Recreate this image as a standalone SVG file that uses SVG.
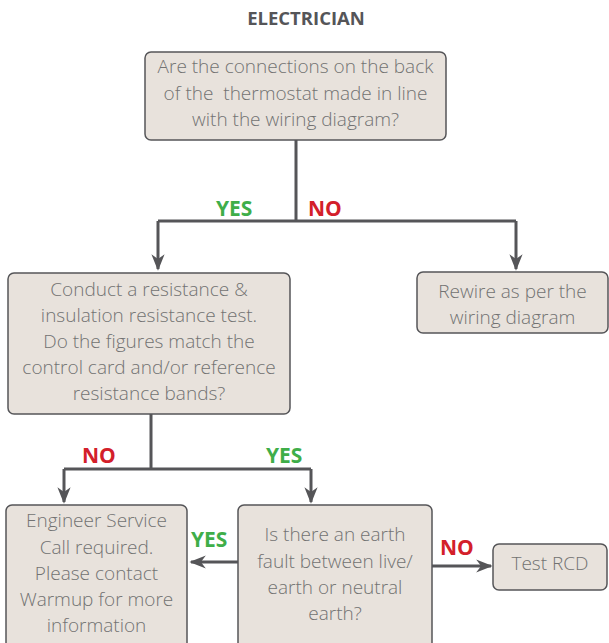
<svg xmlns="http://www.w3.org/2000/svg" width="609" height="643" viewBox="0 0 609 643">
<defs>
<style>
.box{fill:#e8e2dc;stroke:#555558;stroke-width:1.5}
.t{font-family:"Open Sans","Liberation Sans",sans-serif;font-weight:300;font-size:19px;fill:#727272;text-anchor:middle}
.c{fill:none;stroke:#555558;stroke-width:3}
.y{font-family:"Open Sans","Liberation Sans",sans-serif;font-weight:700;font-size:21px;fill:#3fae49}
.n{font-family:"Open Sans","Liberation Sans",sans-serif;font-weight:700;font-size:21px;fill:#d3202a}
.h{font-family:"Open Sans","Liberation Sans",sans-serif;font-weight:700;font-size:18.5px;fill:#555558;text-anchor:middle}
</style>
<marker id="a" viewBox="0 0 10 10" refX="9" refY="5" markerWidth="5.5" markerHeight="5.5" markerUnits="strokeWidth" orient="auto">
<path d="M0,1 L10,5 L0,9 L3,5 z" fill="#555558"/>
</marker>
</defs>
<rect width="609" height="643" fill="#ffffff"/>
<text class="h" x="306" y="25">ELECTRICIAN</text>
<g id="connectors">
<path class="c" d="M296,140 V221 M158,221 H516"/>
<path class="c" d="M158,221 V269" marker-end="url(#a)"/>
<path class="c" d="M516,221 V269" marker-end="url(#a)"/>
<path class="c" d="M151,414 V469 M64,469 H311"/>
<path class="c" d="M64,469 V502" marker-end="url(#a)"/>
<path class="c" d="M311,469 V502" marker-end="url(#a)"/>
<path class="c" d="M238,562 H191" marker-end="url(#a)"/>
<path class="c" d="M432,566 H491" marker-end="url(#a)"/>
<text class="y" x="216" y="216">YES</text>
<text class="n" x="308" y="216">NO</text>
<text class="n" x="82" y="463">NO</text>
<text class="y" x="266" y="463">YES</text>
<text class="y" x="191" y="547">YES</text>
<text class="n" x="440" y="555">NO</text>
</g>
<g id="n1">
<rect class="box" x="145" y="52" width="301" height="88" rx="6"/>
<text class="t" x="295.5" y="73">Are the connections on the back</text>
<text class="t" x="295.5" y="100">of the&#160; thermostat made in line</text>
<text class="t" x="295.5" y="126">with the wiring diagram?</text>
</g>
<g id="n2">
<rect class="box" x="8" y="273" width="282" height="141" rx="6"/>
<text class="t" x="149" y="296">Conduct a resistance &amp;</text>
<text class="t" x="149" y="322">insulation resistance test.</text>
<text class="t" x="149" y="348">Do the figures match the</text>
<text class="t" x="149" y="374">control card and/or reference</text>
<text class="t" x="149" y="400">resistance bands?</text>
</g>
<g id="n3">
<rect class="box" x="417" y="272" width="191" height="61" rx="6"/>
<text class="t" x="512.5" y="298">Rewire as per the</text>
<text class="t" x="512.5" y="324">wiring diagram</text>
</g>
<g id="n4">
<rect class="box" x="6" y="505" width="181" height="145" rx="6"/>
<text class="t" x="96.5" y="527">Engineer Service</text>
<text class="t" x="96.5" y="554">Call required.</text>
<text class="t" x="96.5" y="580">Please contact</text>
<text class="t" x="96.5" y="606">Warmup for more</text>
<text class="t" x="96.5" y="632">information</text>
</g>
<g id="n5">
<rect class="box" x="238" y="505" width="194" height="145" rx="6"/>
<text class="t" x="335" y="541">Is there an earth</text>
<text class="t" x="335" y="568">fault between live/</text>
<text class="t" x="335" y="594">earth or neutral</text>
<text class="t" x="335" y="620">earth?</text>
</g>
<g id="n6">
<rect class="box" x="493" y="544" width="114" height="46" rx="6"/>
<text class="t" x="550" y="570">Test RCD</text>
</g>
</svg>
